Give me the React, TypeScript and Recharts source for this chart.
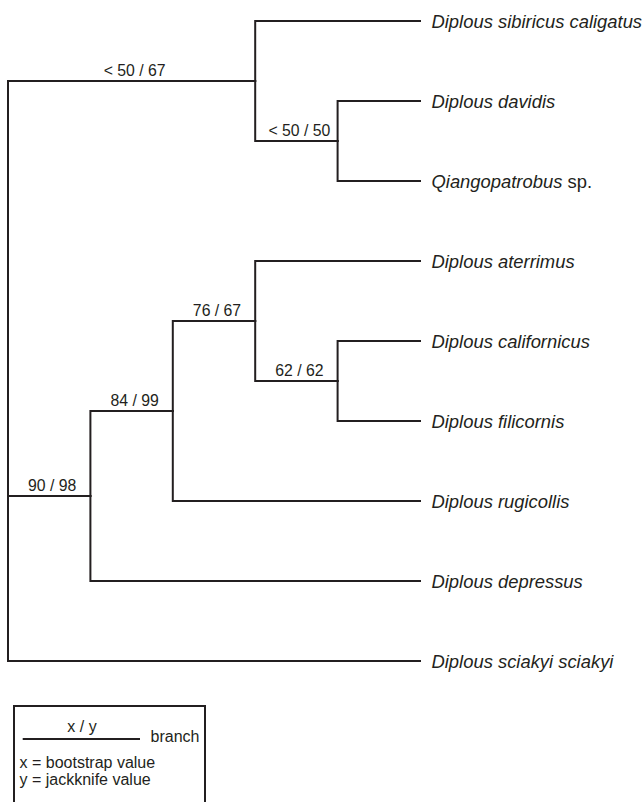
import { ScatterChart, Scatter, XAxis, YAxis } from 'recharts';

// terminal taxa, top to bottom
const taxa = [
  'Diplous sibiricus caligatus',
  'Diplous davidis',
  'Qiangopatrobus sp.',
  'Diplous aterrimus',
  'Diplous californicus',
  'Diplous filicornis',
  'Diplous rugicollis',
  'Diplous depressus',
  'Diplous sciakyi sciakyi',
];
const taxonParents = ['A', 'B', 'B', 'E', 'F', 'F', 'D', 'C', 'root'];

// internal nodes
const cladeIds = ['root', 'A', 'B', 'C', 'D', 'E', 'F'];
const cladeParents = [null, 'root', 'A', 'root', 'C', 'D', 'E'];
const cladeDepths = [0, 3, 4, 1, 2, 3, 4];
const supportValues = [null, '< 50 / 67', '< 50 / 50', '90 / 98', '84 / 99', '76 / 67', '62 / 62'];

const TIP_DEPTH = 5;
const INK = '#231f20';
const FONT = '"Liberation Sans", Arial, Helvetica, sans-serif';

const depthOf = (id: string) => cladeDepths[cladeIds.indexOf(id)];

// node row = midpoint of its children's rows
const rowOf = (id: string): number => {
  const rows: number[] = [];
  taxonParents.forEach((p, i) => { if (p === id) rows.push(i); });
  cladeParents.forEach((p, i) => { if (p === id) rows.push(rowOf(cladeIds[i])); });
  return (Math.min(...rows) + Math.max(...rows)) / 2;
};

type Pt = { x: number; y: number; label?: string };

const elbow = (parent: string, childDepth: number, childRow: number): Pt[] => [
  { x: depthOf(parent), y: rowOf(parent) },
  { x: depthOf(parent), y: childRow },
  { x: childDepth, y: childRow },
];

const edges: Pt[][] = [
  ...taxa.map((_, i) => elbow(taxonParents[i], TIP_DEPTH, i)),
  ...cladeIds
    .map((id, i) => (cladeParents[i] ? elbow(cladeParents[i] as string, cladeDepths[i], rowOf(id)) : null))
    .filter((e): e is Pt[] => e !== null),
];

const tipPoints: Pt[] = taxa.map((name, i) => ({ x: TIP_DEPTH, y: i, label: name }));

const supportPoints: Pt[] = cladeIds
  .map((id, i) =>
    cladeParents[i]
      ? { x: (depthOf(cladeParents[i] as string) + cladeDepths[i]) / 2, y: rowOf(id), label: supportValues[i] as string }
      : null
  )
  .filter((p): p is Pt => p !== null);

const Nothing = () => <g />;

const TipLabel = (props: any) => {
  const name: string = props.payload.label;
  const sp = name.endsWith(' sp.');
  return (
    <text x={props.cx + 11.5} y={props.cy + 6.5} fontSize={18.4} fill={INK} fontFamily={FONT}>
      <tspan fontStyle="italic">{sp ? name.slice(0, -4) : name}</tspan>
      {sp && <tspan> sp.</tspan>}
    </text>
  );
};

const SupportLabel = (props: any) => (
  <text x={props.cx + 3} y={props.cy - 5.5} textAnchor="middle" fontSize={15.8} fill={INK} fontFamily={FONT}>
    {props.payload.label}
  </text>
);

const Legend = () => (
  <svg width={643} height={802} style={{ position: 'absolute', left: 0, top: 0, pointerEvents: 'none' }}>
    <rect x={14} y={706} width={191} height={130} fill="none" stroke={INK} strokeWidth={2} />
    <text x={82} y={732} textAnchor="middle" fontSize={16} fill={INK} fontFamily={FONT}>x / y</text>
    <line x1={22.7} x2={140} y1={739} y2={739} stroke={INK} strokeWidth={2} />
    <text x={150.5} y={742.3} fontSize={16} fill={INK} fontFamily={FONT}>branch</text>
    <text x={19.5} y={767.7} fontSize={16} fill={INK} fontFamily={FONT}>x = bootstrap value</text>
    <text x={19.5} y={784.5} fontSize={16} fill={INK} fontFamily={FONT}>y = jackknife value</text>
  </svg>
);

export default function App() {
  return (
    <div style={{ position: 'relative', width: 643, height: 802, background: '#fff' }}>
      <style>{'body { margin: 0; }'}</style>
      <ScatterChart width={643} height={802} margin={{ top: 21, right: 223, bottom: 141, left: 8 }}>
        <XAxis type="number" dataKey="x" domain={[0, TIP_DEPTH]} hide />
        <YAxis type="number" dataKey="y" domain={[0, taxa.length - 1]} reversed hide />
        {edges.map((pts, i) => (
          <Scatter
            key={i}
            data={pts}
            shape={Nothing}
            line={{ stroke: INK, strokeWidth: 2, strokeLinejoin: 'miter', strokeLinecap: 'square' }}
            lineType="joint"
            isAnimationActive={false}
          />
        ))}
        <Scatter data={tipPoints} shape={TipLabel} isAnimationActive={false} />
        <Scatter data={supportPoints} shape={SupportLabel} isAnimationActive={false} />
      </ScatterChart>
      <Legend />
    </div>
  );
}
